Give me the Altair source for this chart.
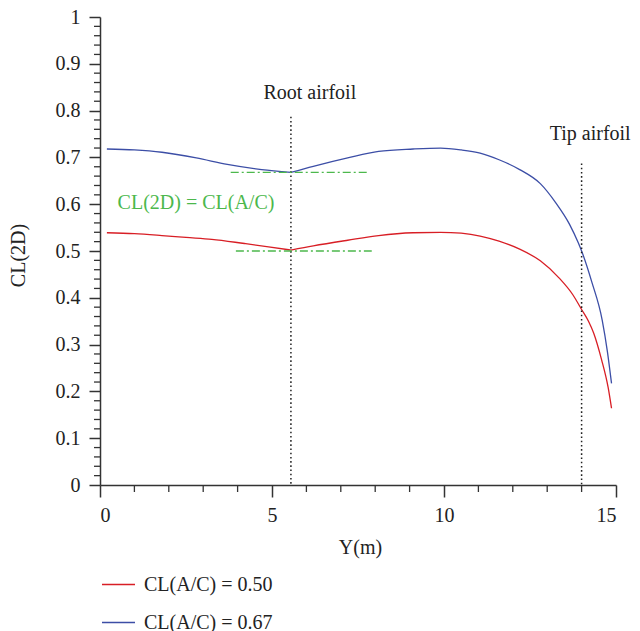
import altair as alt
import pandas as pd

# ---- data ----
series_labels = ["CL(A/C) = 0.50", "CL(A/C) = 0.67"]
series_colors = ["#d81e25", "#3c4ea6"]

span_red = [0.2, 1.0, 1.8, 2.5, 3.25, 4.2, 4.9, 5.55, 6.2, 7.2, 8.1, 9.1, 9.9, 10.5,
            11.05, 11.6, 12.2, 12.8, 13.35, 13.75, 14.0, 14.2, 14.35, 14.58, 14.77, 14.87]
cl_red = [0.539, 0.537, 0.533, 0.529, 0.525, 0.516, 0.509, 0.502, 0.511, 0.523, 0.533, 0.539, 0.540, 0.538,
          0.532, 0.521, 0.504, 0.479, 0.442, 0.406, 0.375, 0.350, 0.325, 0.268, 0.209, 0.164]

span_blue = [0.2, 1.0, 1.8, 2.8, 3.7, 4.7, 5.55, 6.2, 7.2, 8.1, 9.1, 9.9, 10.5, 11.05,
             11.6, 12.2, 12.8, 13.25, 13.65, 13.9, 14.0, 14.3, 14.6, 14.75, 14.87]
cl_blue = [0.718, 0.716, 0.711, 0.699, 0.685, 0.674, 0.668, 0.681, 0.699, 0.713, 0.718, 0.720, 0.716, 0.709,
           0.695, 0.674, 0.644, 0.603, 0.557, 0.518, 0.500, 0.433, 0.352, 0.285, 0.217]

y_major = [0, 0.1, 0.2, 0.3, 0.4, 0.5, 0.6, 0.7, 0.8, 0.9, 1.0]
y_minor = [round(i * 0.02, 2) for i in range(51) if i % 5 != 0]
x_major = [0, 5, 10, 15]
x_minor = [i for i in range(16) if i % 5 != 0]

marker_x = [5.55, 14.0]          # root / tip airfoil
marker_top = [0.787, 0.687]

ref_x1 = [3.8, 3.95]
ref_x2 = [7.8, 7.9]
ref_level = [0.668, 0.500]

annot_text = ["Root airfoil", "Tip airfoil"]
annot_x = [6.1, 14.25]
annot_y = [0.838, 0.751]

green_text = ["CL(2D) = CL(A/C)"]
green_x = [2.79]
green_y = [0.602]

FONT = "Liberation Serif"
GREEN = "#4cb84c"
AX = "#333333"
ROOT = marker_x[0]
H = 468


def segments(span, cl, label):
    rows = []
    for s, c in zip(span, cl):
        if s <= ROOT:
            rows.append({"span": s, "cl": c, "series": label, "seg": label + " a"})
        if s >= ROOT:
            rows.append({"span": s, "cl": c, "series": label, "seg": label + " b"})
    return pd.DataFrame(rows)


lines_df = pd.concat([
    segments(span_red, cl_red, series_labels[0]),
    segments(span_blue, cl_blue, series_labels[1]),
])

xscale = alt.Scale(domain=[0, 15], nice=False, zero=False)
yscale = alt.Scale(domain=[0, 1], nice=False, zero=False)

lines = alt.Chart(lines_df).mark_line(strokeWidth=1.3, interpolate="monotone").encode(
    x=alt.X("span:Q", scale=xscale,
            axis=alt.Axis(title="Y(m)", values=x_major, tickSize=12, labelPadding=8,
                          titleX=260, titleY=62, titleBaseline="middle", titleAlign="center")),
    y=alt.Y("cl:Q", scale=yscale,
            axis=alt.Axis(title="CL(2D)", values=y_major, tickSize=11, labelPadding=9, format="~g",
                          titleX=-82, titleY=238, titleAngle=-90, titleBaseline="middle",
                          titleAlign="center")),
    detail="seg:N",
    color=alt.Color("series:N",
                    scale=alt.Scale(domain=series_labels, range=series_colors),
                    legend=alt.Legend(orient="none", legendX=1, legendY=550, title=None,
                                      symbolType="stroke", symbolSize=1089, symbolStrokeWidth=1.3,
                                      labelFont=FONT, labelFontSize=20, labelColor="#222222",
                                      labelOffset=8, rowPadding=10)),
)

yminor = alt.Chart(pd.DataFrame({"v": y_minor})).mark_rule(color=AX, strokeWidth=1.3).encode(
    y=alt.Y("v:Q", scale=yscale), x=alt.value(0), x2=alt.value(-6))
xminor = alt.Chart(pd.DataFrame({"v": x_minor})).mark_rule(color=AX, strokeWidth=1.3).encode(
    x=alt.X("v:Q", scale=xscale), y=alt.value(H), y2=alt.value(H + 7))

markers = alt.Chart(pd.DataFrame({"x": marker_x, "top": marker_top, "bot": [0, 0]})).mark_rule(
    color="#222222", strokeWidth=1.5, strokeDash=[1.6, 2.6]).encode(
    x=alt.X("x:Q", scale=xscale),
    y=alt.Y("top:Q", scale=yscale), y2="bot:Q")

refs = alt.Chart(pd.DataFrame({"x1": ref_x1, "x2": ref_x2, "lv": ref_level})).mark_rule(
    color=GREEN, strokeWidth=1.4, strokeDash=[8, 3, 2, 3]).encode(
    x=alt.X("x1:Q", scale=xscale), x2="x2:Q",
    y=alt.Y("lv:Q", scale=yscale))

annots = alt.Chart(pd.DataFrame({"t": annot_text, "x": annot_x, "y": annot_y})).mark_text(
    font=FONT, fontSize=20, color="#222222", align="center", baseline="middle").encode(
    x=alt.X("x:Q", scale=xscale), y=alt.Y("y:Q", scale=yscale), text="t:N")

gtext = alt.Chart(pd.DataFrame({"t": green_text, "x": green_x, "y": green_y})).mark_text(
    font=FONT, fontSize=20, color=GREEN, align="center", baseline="middle").encode(
    x=alt.X("x:Q", scale=xscale), y=alt.Y("y:Q", scale=yscale), text="t:N")

chart = alt.layer(lines, yminor, xminor, markers, refs, annots, gtext).properties(
    width=516, height=H,
    autosize=alt.AutoSizeParams(type="none"),
    padding={"left": 92, "top": 9, "right": 16, "bottom": 146},
    background="white",
).configure_view(stroke=None).configure_axis(
    grid=False, labelFont=FONT, labelFontSize=20, labelColor="#222222",
    titleFont=FONT, titleFontSize=20, titleColor="#222222", titleFontWeight="normal",
    domainColor=AX, domainWidth=1.5, tickColor=AX, tickWidth=1.5,
)

chart.save("out.html", embed_options={"renderer": "svg", "actions": False})
